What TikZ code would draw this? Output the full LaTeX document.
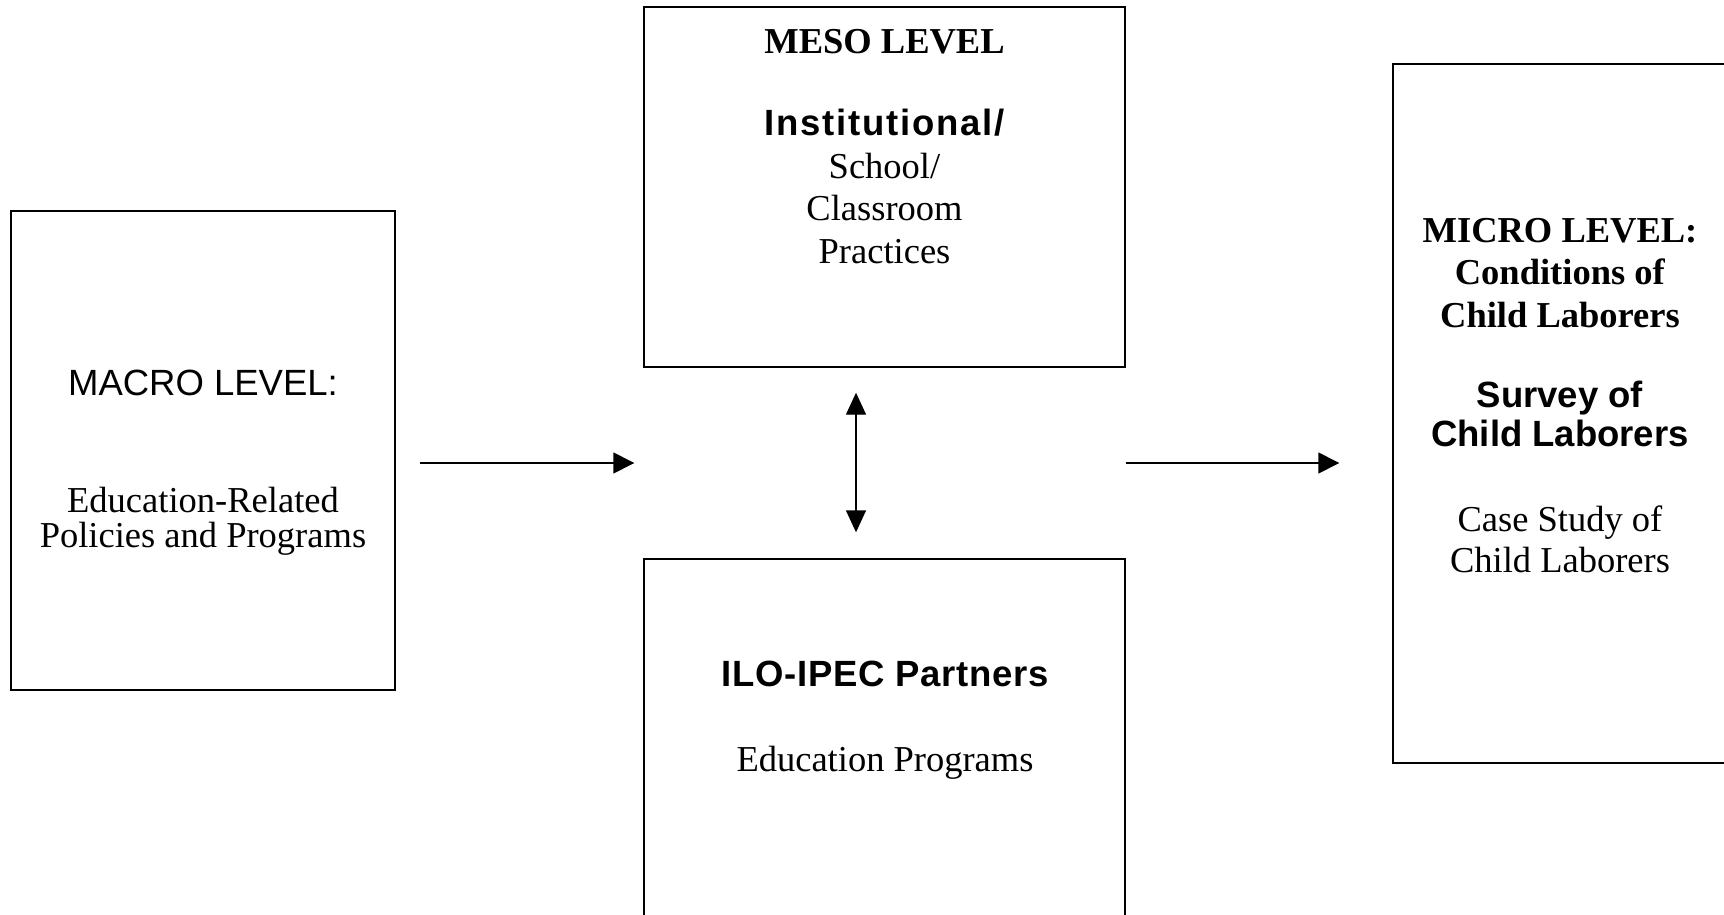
\documentclass[tikz,border=0pt]{standalone}
\usepackage{fontspec}
\setmainfont{Liberation Serif}
\setsansfont{Liberation Sans}
\usetikzlibrary{arrows.meta}

\tikzset{
  levelbox/.style={draw, line width=0.7pt, inner sep=0pt},
  boxtext/.style={align=center, inner sep=0pt, anchor=north},
  flow/.style={-{Triangle[length=10.5pt,width=10.5pt]}, line width=0.7pt},
  twoway/.style={{Triangle[length=11pt,width=10pt]}-{Triangle[length=11pt,width=10pt]}, line width=0.7pt}
}

\begin{document}
\begin{tikzpicture}[x=0.5pt, y=-0.5pt]
\useasboundingbox (0,0) rectangle (1724,915);
% boxes
\node[levelbox, minimum width=192pt, minimum height=239.5pt] (macro) at (203,450.5) {};
\node[levelbox, minimum width=240.5pt, minimum height=180pt] (meso) at (884.5,187) {};
\node[levelbox, minimum width=240.5pt, minimum height=179pt] (ilo) at (884.5,738) {};
\node[levelbox, minimum width=167pt, minimum height=349.5pt] (micro) at (1560,413.5) {};
% texts
\node[boxtext, font=\fontsize{18.25}{17.5}\selectfont] (macrotext) at (203,370)
  {{\sffamily MACRO LEVEL:}\\[41pt]
   Education-Related\\ Policies and Programs};
\node[boxtext, font=\fontsize{18.25}{21.25}\selectfont] (mesotext) at (884.5,28.5)
  {\textbf{MESO LEVEL}\\[20pt]
   {\sffamily\bfseries\addfontfeature{LetterSpace=5}Institutional/}\\
   School/\\ Classroom\\ Practices};
\node[boxtext, font=\fontsize{18.25}{21.25}\selectfont] (ilotext) at (885,661)
  {{\sffamily\bfseries\addfontfeature{LetterSpace=2}ILO-IPEC Partners}\\[21pt]
   Education Programs};
\node[boxtext, font=\fontsize{18.25}{21.25}\selectfont] (microtext) at (1560,217.5)
  {\textbf{MICRO LEVEL:}\\ \textbf{Conditions of}\\ \textbf{Child Laborers}\\[18.75pt]
   {\sffamily\bfseries Survey of}\\[-1.75pt] {\sffamily\bfseries Child Laborers}\\[21.25pt]
   Case Study of\\[-0.75pt] Child Laborers};
% connectors
\coordinate (flowline) at (0,463);
\coordinate (pairline) at (856,0);
\draw[flow, shorten <=12pt, shorten >=4.5pt] (macro.east |- flowline) -- (meso.west |- flowline);
\draw[flow, shorten >=26.5pt] (meso.east |- flowline) -- (micro.west |- flowline);
\draw[twoway, shorten <=12.5pt, shorten >=13pt] (meso.south -| pairline) -- (ilo.north -| pairline);
\end{tikzpicture}
\end{document}
